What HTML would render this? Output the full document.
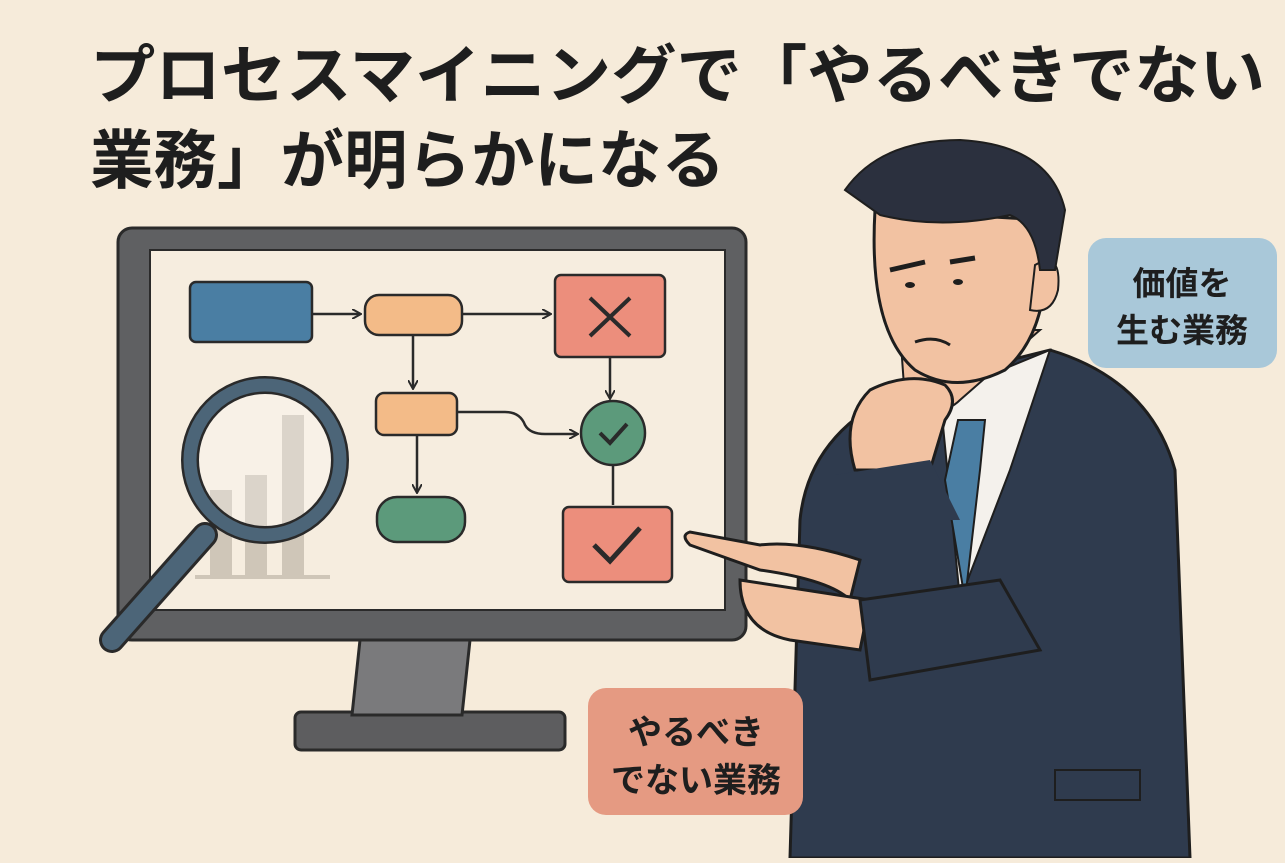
<!DOCTYPE html>
<html><head><meta charset="utf-8"><style>
body{margin:0;width:1285px;height:858px;overflow:hidden;background:#f6ebda;font-family:"Liberation Sans","Noto Sans CJK JP",sans-serif}
</style></head><body>
<svg width="1285" height="858" viewBox="0 0 1285 858" xmlns="http://www.w3.org/2000/svg">
<defs><marker id="a" markerWidth="10" markerHeight="10" refX="8" refY="5" orient="auto" markerUnits="userSpaceOnUse"><path d="M0 0 L9 5 L0 10" fill="none" stroke="#2a2a2a" stroke-width="2"/></marker></defs>
<rect width="1285" height="858" fill="#f6ebda"/>
<g font-family="'Liberation Sans','Noto Sans CJK JP',sans-serif" font-weight="bold" fill="#1e1e1e">
<text x="90" y="98" font-size="64" textLength="1175" lengthAdjust="spacingAndGlyphs">プロセスマイニングで「やるべきでない</text>
<text x="90" y="183" font-size="64" textLength="635" lengthAdjust="spacingAndGlyphs">業務」が明らかになる</text>
</g>
<!-- monitor -->
<rect x="295" y="712" width="270" height="38" rx="6" fill="#5d5d5f" stroke="#2a2a2a" stroke-width="3"/>
<polygon points="360,640 470,640 462,715 352,715" fill="#7a7a7c" stroke="#2a2a2a" stroke-width="3"/>
<rect x="118" y="228" width="628" height="412" rx="14" fill="#5f6062" stroke="#2a2a2a" stroke-width="3"/>
<rect x="150" y="250" width="575" height="360" fill="#f6eddf" stroke="#2a2a2a" stroke-width="2"/>
<g fill="#cfc6b8">
<rect x="210" y="490" width="22" height="88"/><rect x="245" y="475" width="22" height="103"/><rect x="282" y="415" width="22" height="163"/>
<rect x="195" y="575" width="135" height="4"/>
</g>
<g stroke="#2a2a2a" stroke-width="2.5" fill="none">
<line x1="312" y1="314" x2="360" y2="314" marker-end="url(#a)"/><line x1="462" y1="314" x2="550" y2="314" marker-end="url(#a)"/>
<line x1="413" y1="336" x2="413" y2="388" marker-end="url(#a)"/><line x1="610" y1="358" x2="610" y2="398" marker-end="url(#a)"/>
<path d="M457 412 H505 Q520 412 525 425 Q530 434 545 434 H577" marker-end="url(#a)"/>
<line x1="417" y1="436" x2="417" y2="492" marker-end="url(#a)"/><line x1="613" y1="465" x2="613" y2="505"/>
</g>
<rect x="190" y="282" width="122" height="60" rx="6" fill="#4a7ea3" stroke="#2a2a2a" stroke-width="2.5"/>
<rect x="365" y="295" width="97" height="40" rx="14" fill="#f3bb88" stroke="#2a2a2a" stroke-width="2.5"/>
<rect x="555" y="275" width="110" height="82" rx="6" fill="#ec8e7c" stroke="#2a2a2a" stroke-width="2.5"/>
<path d="M590 298 L630 336 M630 298 L590 336" stroke="#2a2a2a" stroke-width="4"/>
<rect x="376" y="393" width="81" height="42" rx="8" fill="#f3bb88" stroke="#2a2a2a" stroke-width="2.5"/>
<circle cx="613" cy="433" r="32" fill="#5c9a7b" stroke="#2a2a2a" stroke-width="2.5"/>
<path d="M600 433 L610 443 L627 424" stroke="#2a2a2a" stroke-width="4" fill="none"/>
<rect x="377" y="497" width="88" height="45" rx="20" fill="#5c9a7b" stroke="#2a2a2a" stroke-width="2.5"/>
<rect x="563" y="507" width="109" height="75" rx="6" fill="#ec8e7c" stroke="#2a2a2a" stroke-width="2.5"/>
<path d="M594 545 L610 561 L640 528" stroke="#2a2a2a" stroke-width="5" fill="none"/>
<line x1="112" y1="640" x2="205" y2="535" stroke="#2a2a2a" stroke-width="26" stroke-linecap="round"/>
<line x1="112" y1="640" x2="205" y2="535" stroke="#4c6578" stroke-width="20" stroke-linecap="round"/>
<circle cx="265" cy="460" r="75" fill="rgba(255,255,255,0.25)" stroke="#2a2a2a" stroke-width="18"/>
<circle cx="265" cy="460" r="75" fill="none" stroke="#4c6578" stroke-width="13"/>
<!-- man -->
<path d="M790 858 L800 520 Q810 420 930 380 L1050 350 Q1150 380 1175 470 L1190 858 Z" fill="#2f3b4e" stroke="#1e1e1e" stroke-width="3"/>
<polygon points="940,395 1050,350 1010,470 960,600" fill="#f4f1ec" stroke="#1e1e1e" stroke-width="2"/>
<polygon points="958,420 985,420 980,470 965,600 945,480" fill="#4a7ea3" stroke="#1e1e1e" stroke-width="2"/>
<path d="M900 330 L905 400 Q940 420 960 400 L1040 330 Z" fill="#f2c2a2" stroke="#1e1e1e" stroke-width="2"/>
<path d="M875 210 Q868 330 915 370 Q955 395 1005 370 Q1040 340 1045 280 L1045 220 Z" fill="#f2c2a2" stroke="#1e1e1e" stroke-width="3"/>
<path d="M1035 265 Q1062 250 1058 290 Q1052 315 1030 310 Z" fill="#f2c2a2" stroke="#1e1e1e" stroke-width="2"/>
<path d="M845 190 Q880 140 960 140 Q1050 145 1065 210 L1055 270 L1040 270 Q1035 225 1010 215 Q940 230 880 215 Z" fill="#2b303e" stroke="#1e1e1e" stroke-width="2"/>
<path d="M890 270 L925 262 M950 262 L975 258" stroke="#1e1e1e" stroke-width="5"/>
<ellipse cx="910" cy="285" rx="5" ry="3" fill="#1e1e1e"/><ellipse cx="958" cy="282" rx="5" ry="3" fill="#1e1e1e"/>
<path d="M915 342 Q935 335 950 345" stroke="#1e1e1e" stroke-width="3" fill="none"/>
<path d="M855 470 Q840 420 870 390 Q910 370 945 385 Q960 400 945 420 L930 470 Z" fill="#f2c2a2" stroke="#1e1e1e" stroke-width="3"/>
<path d="M835 475 L930 460 L960 520 L835 520 Z" fill="#2f3b4e"/>
<path d="M850 600 Q830 580 760 570 L690 545 Q680 535 690 532 L760 545 Q800 540 860 560 Z" fill="#f2c2a2" stroke="#1e1e1e" stroke-width="3"/>
<path d="M740 580 Q740 630 790 640 L860 650 L870 600 Z" fill="#f2c2a2" stroke="#1e1e1e" stroke-width="3"/>
<path d="M860 600 L1000 580 L1040 650 L870 680 Z" fill="#2f3b4e" stroke="#1e1e1e" stroke-width="3"/>
<rect x="1055" y="770" width="85" height="30" fill="none" stroke="#1e1e1e" stroke-width="2"/>
<rect x="1088" y="238" width="189" height="130" rx="18" fill="#a9c8d9"/>
<g font-family="'Liberation Sans','Noto Sans CJK JP',sans-serif" font-weight="bold" fill="#1e1e1e" text-anchor="middle" font-size="33">
<text x="1182" y="295">価値を</text><text x="1182" y="342">生む業務</text>
</g>
<rect x="588" y="688" width="215" height="127" rx="18" fill="#e59a82"/>
<g font-family="'Liberation Sans','Noto Sans CJK JP',sans-serif" font-weight="bold" fill="#1e1e1e" text-anchor="middle" font-size="34">
<text x="696" y="744">やるべき</text><text x="696" y="792">でない業務</text>
</g>
</svg>
</body></html>
